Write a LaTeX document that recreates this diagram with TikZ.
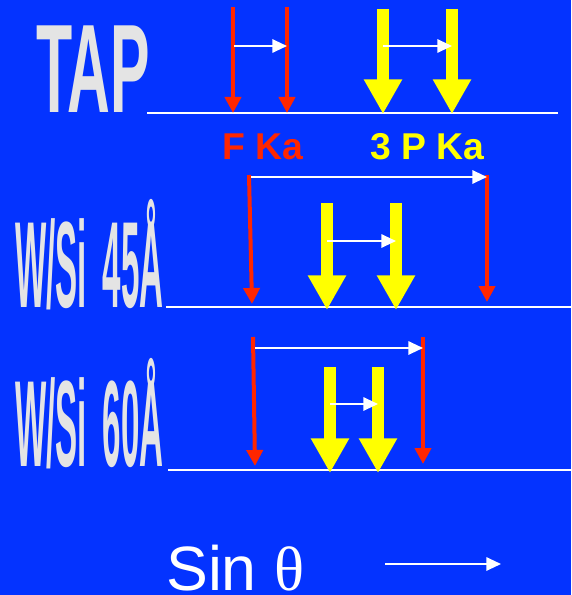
\documentclass[tikz,border=0pt]{standalone}
\usepackage{fontspec}
\setmainfont{Liberation Sans}
\newfontfamily\thetafont{Liberation Serif}
\usetikzlibrary{arrows.meta}
\definecolor{bgc}{RGB}{4,51,255}
\definecolor{redc}{RGB}{255,38,0}
\definecolor{yelc}{RGB}{255,255,0}
\definecolor{titlec}{RGB}{228,228,228}
\begin{document}
\begin{tikzpicture}[x=0.75pt,y=-0.75pt,
  redarrow/.style={draw=redc, line width=3pt, -{Triangle[length=12pt,width=12pt]}},
  yelarrow/.style={draw=yelc, line width=9pt, -{Triangle[length=26pt,width=27pt]}},
  whitearrow/.style={draw=white, line width=1.5pt, -{Triangle[length=11pt,width=10pt]}},
  axisline/.style={draw=white, line width=1.6pt},
  titletext/.style={text=titlec, font=\bfseries, inner sep=0pt, anchor=base west},
  lbltext/.style={font=\fontsize{28}{28}\selectfont\bfseries, inner sep=0pt, anchor=base west}]
\useasboundingbox[fill=bgc] (0,0) rectangle (571,595);

% titles
\node[titletext, xscale=0.47, font=\fontsize{94.5}{94.5}\selectfont\bfseries] (tap) at (36,113) {TAP};
\node[titletext, xscale=0.27, font=\fontsize{92}{92}\selectfont\bfseries] (ws45) at (15,307) {W/Si\hspace{19pt} 45Å};
\node[titletext, xscale=0.27, font=\fontsize{92}{92}\selectfont\bfseries] (ws60) at (15,466) {W/Si\hspace{19pt} 60Å};

% labels
\node[lbltext, text=redc] (fka) at (222,160) {F Ka};
\node[lbltext, text=yelc] (pka) at (370,160) {3 P Ka};
\node[inner sep=0pt, anchor=base west, text depth=0pt, text=white, font=\fontsize{47}{47}\selectfont] (sin) at (166,590) {Sin {\thetafont θ}};

% coordinates: TAP
\coordinate (L1a) at (147,113); \coordinate (L1b) at (558,113);
\coordinate (r1a) at (233,7);   \coordinate (r1b) at (233,113);
\coordinate (r2a) at (287,7);   \coordinate (r2b) at (287,113);
\coordinate (w1a) at (234,46);  \coordinate (w1b) at (287,46);
\coordinate (y1a) at (383,9);   \coordinate (y1b) at (383,114);
\coordinate (y2a) at (452,9);   \coordinate (y2b) at (452,114);
\coordinate (w2a) at (383,46);  \coordinate (w2b) at (452,46);
% coordinates: W/Si 45
\coordinate (L2a) at (166,307); \coordinate (L2b) at (571,307);
\coordinate (r3a) at (249,175); \coordinate (r3b) at (252,304);
\coordinate (r4a) at (487,175); \coordinate (r4b) at (487,302);
\coordinate (w3a) at (251,177); \coordinate (w3b) at (487,177);
\coordinate (y3a) at (327,203); \coordinate (y3b) at (327,310);
\coordinate (y4a) at (396,203); \coordinate (y4b) at (396,310);
\coordinate (w4a) at (327,241); \coordinate (w4b) at (396,241);
% coordinates: W/Si 60
\coordinate (L3a) at (168,470); \coordinate (L3b) at (571,470);
\coordinate (r5a) at (253,337); \coordinate (r5b) at (255,466);
\coordinate (r6a) at (423,337); \coordinate (r6b) at (423,464);
\coordinate (w5a) at (255,348); \coordinate (w5b) at (423,348);
\coordinate (y5a) at (330,367); \coordinate (y5b) at (330,473);
\coordinate (y6a) at (378,367); \coordinate (y6b) at (378,473);
\coordinate (w6a) at (330,404); \coordinate (w6b) at (378,404);
% sin arrow
\coordinate (sa) at (385,564);  \coordinate (sb) at (501,564);

% baselines
\draw[axisline] (L1a) -- (L1b);
\draw[axisline] (L2a) -- (L2b);
\draw[axisline] (L3a) -- (L3b);

% red arrows
\draw[redarrow] (r1a) -- (r1b);
\draw[redarrow] (r2a) -- (r2b);
\draw[redarrow] (r3a) -- (r3b);
\draw[redarrow] (r4a) -- (r4b);
\draw[redarrow] (r5a) -- (r5b);
\draw[redarrow] (r6a) -- (r6b);

% yellow arrows
\draw[yelarrow] (y1a) -- (y1b);
\draw[yelarrow] (y2a) -- (y2b);
\draw[yelarrow] (y3a) -- (y3b);
\draw[yelarrow] (y4a) -- (y4b);
\draw[yelarrow] (y5a) -- (y5b);
\draw[yelarrow] (y6a) -- (y6b);

% white shift arrows
\draw[whitearrow] (w1a) -- (w1b);
\draw[whitearrow] (w2a) -- (w2b);
\draw[whitearrow] (w3a) -- (w3b);
\draw[whitearrow] (w4a) -- (w4b);
\draw[whitearrow] (w5a) -- (w5b);
\draw[whitearrow] (w6a) -- (w6b);
\draw[whitearrow] (sa) -- (sb);
\end{tikzpicture}
\end{document}
